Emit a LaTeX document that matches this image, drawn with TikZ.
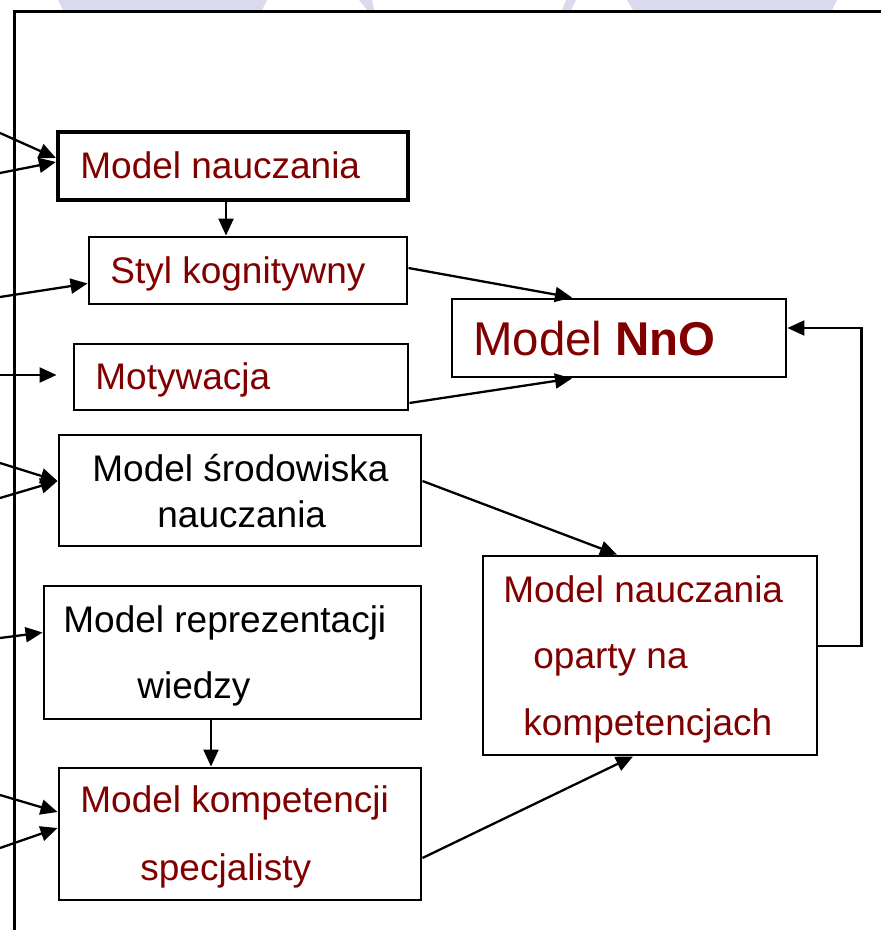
\documentclass[tikz,border=0pt]{standalone}
\usepackage{fontspec}
\setmainfont{Liberation Sans}
\usetikzlibrary{arrows.meta}
\definecolor{maroon}{RGB}{128,0,0}
\definecolor{lavender}{RGB}{218,218,238}

\begin{document}
\begin{tikzpicture}[
  x=0.5pt,
  y=-0.5pt,
  box/.style={
    draw,
    line width=1.45pt,
    inner sep=0pt
  },
  mainbox/.style={
    box,
    line width=2.1pt
  },
  txt/.style={
    anchor=base west,
    inner sep=0pt,
    font=\fontsize{18.5pt}{22pt}\selectfont
  },
  redtxt/.style={txt, text=maroon},
  arrow/.style={-{Triangle[length=8.5pt,width=7.5pt]}, line width=1.15pt},
  frame/.style={line width=1.45pt}
]

\useasboundingbox (0,0) rectangle (881,930);
\clip (0,0) rectangle (881,930);

% background pieces at the top
\fill[lavender] (58,0) -- (267,0) -- (262,10) -- (63,10) -- cycle;
\fill[lavender] (359,0) -- (372,0) -- (374,10) -- (367,10) -- cycle;
\fill[lavender] (566,0) -- (576,0) -- (571,10) -- (562,10) -- cycle;
\fill[lavender] (627,0) -- (837,0) -- (832,10) -- (633,10) -- cycle;

\draw[frame] (14.5,940) -- (14.5,11.3) -- (890,11.3);

% boxes
\node[mainbox, minimum width=175pt, minimum height=34pt] (mn) at (233,166) {};
\node[box, minimum width=159pt, minimum height=33.5pt] (sk) at (248,270.5) {};
\node[box, minimum width=167pt, minimum height=33pt] (mo) at (241,377) {};
\node[box, minimum width=181pt, minimum height=55.5pt] (sr) at (240,490.5) {};
\node[box, minimum width=188.5pt, minimum height=66.5pt] (rw) at (232.5,652.5) {};
\node[box, minimum width=181pt, minimum height=66pt] (ks) at (240,834) {};
\node[box, minimum width=167pt, minimum height=39pt] (nno) at (619,338) {};
\node[box, minimum width=167pt, minimum height=99.5pt] (op) at (650,655.5) {};

% texts
\node[redtxt] (mnt) at (80,179) {Model nauczania};
\node[redtxt] (skt) at (110,284) {Styl kognitywny};
\node[redtxt] (mot) at (95,389) {Motywacja};
\node[txt] (srt1) at (92,481) {Model środowiska};
\node[txt] (srt2) at (157,527) {nauczania};
\node[txt] (rwt1) at (63,632) {Model reprezentacji};
\node[txt] (rwt2) at (137,698) {wiedzy};
\node[redtxt] (kst1) at (80,812) {Model kompetencji};
\node[redtxt] (kst2) at (140,880) {specjalisty};
\node[redtxt, font=\fontsize{23.7pt}{28pt}\selectfont] (nnot) at (473,355) {Model \textbf{NnO}};
\node[redtxt] (opt1) at (503,602) {Model nauczania};
\node[redtxt] (opt2) at (533,668) {oparty na};
\node[redtxt] (opt3) at (523,735) {kompetencjach};

% free ends on the left
\coordinate (a1) at (0,133);
\coordinate (a2) at (0,173);
\coordinate (a3) at (0,297);
\coordinate (a4) at (0,375);
\coordinate (a5) at (0,463);
\coordinate (a6) at (0,498);
\coordinate (a7) at (0,638);
\coordinate (a8) at (0,795);
\coordinate (a9) at (0,848);

\draw[arrow] (a1) -- ([yshift=4pt]mn.west);
\draw[arrow] (a2) -- ([yshift=2pt]mn.west);
\draw[arrow] (a3) -- ([yshift=-6.5pt]sk.west);
\draw[arrow] (a4) -- ([xshift=-8pt,yshift=1pt]mo.west);
\draw[arrow] (a5) -- ([yshift=4.75pt]sr.west);
\draw[arrow] (a6) -- ([yshift=4.75pt]sr.west);
\draw[arrow] (a7) -- ([yshift=10pt]rw.west);
\draw[arrow] (a8) -- ([yshift=11pt]ks.west);
\draw[arrow] (a9) -- ([yshift=3pt]ks.west);

\draw[arrow] ([xshift=-3.5pt]mn.south) -- ([xshift=-11pt]sk.north);
\draw[arrow] ([xshift=-10.75pt]rw.south) -- ([xshift=-14.5pt]ks.north);

\draw[arrow] ([yshift=1.25pt]sk.east) -- ([xshift=-23.5pt]nno.north);
\draw[arrow] ([yshift=-13pt]mo.east) -- ([xshift=-23.5pt]nno.south);
\draw[arrow] ([yshift=4.75pt]sr.east) -- ([xshift=-16.5pt]op.north);
\draw[arrow] ([yshift=-12pt]ks.east) -- ([xshift=-8.5pt]op.south);
\draw[arrow] ([yshift=4.75pt]op.east) -- ++(21.5pt,0) |- ([yshift=5pt]nno.east);

\end{tikzpicture}
\end{document}
